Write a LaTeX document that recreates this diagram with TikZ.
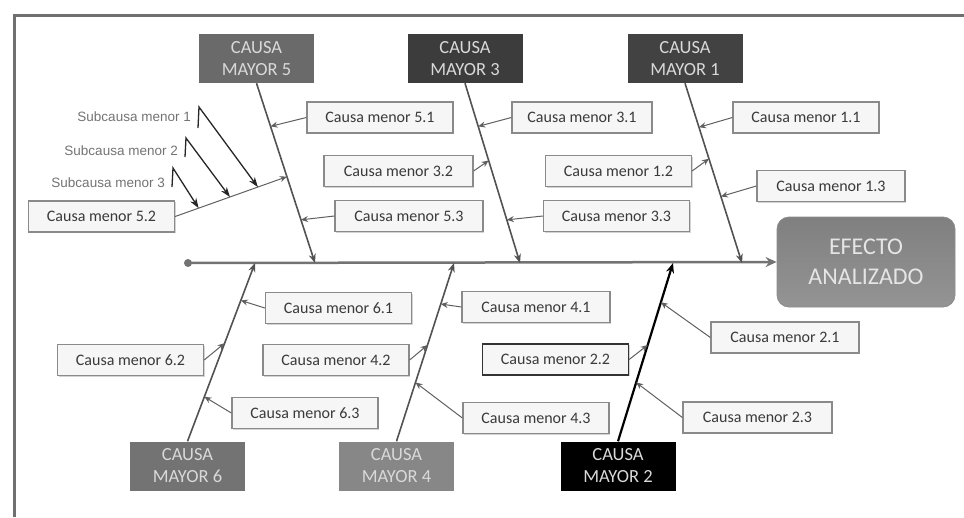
\documentclass[tikz,border=0pt]{standalone}
\usepackage{fontspec}
\setmainfont{Carlito}
\newfontfamily\subfont{Liberation Sans}
\usetikzlibrary{arrows.meta,calc,shadows}
\definecolor{frameC}{HTML}{707070}
\definecolor{mFive}{HTML}{6A6A6A}
\definecolor{mThree}{HTML}{3C3C3C}
\definecolor{mOne}{HTML}{424242}
\definecolor{mSix}{HTML}{737373}
\definecolor{mFour}{HTML}{878787}
\definecolor{minFill}{HTML}{F6F6F6}
\definecolor{minDraw}{HTML}{8A8A8A}
\definecolor{minText}{HTML}{3A3A3A}
\definecolor{arrC}{HTML}{606060}
\tikzset{
  major/.style={rectangle, minimum width=115pt, minimum height=49pt, inner sep=1pt,
    text=white!85!black, align=center, font=\fontsize{18.5}{22}\selectfont},
  minor/.style={rectangle, draw=minDraw, line width=1.3pt, fill=minFill, minimum width=146pt,
    minimum height=31pt, inner sep=1pt, text=minText, font=\fontsize{16}{18}\selectfont,
    drop shadow={opacity=0.35, shadow xshift=1.2pt, shadow yshift=-1.2pt}},
  minarrow/.style={draw=arrC, line width=1pt, -{Stealth[length=7pt,width=6pt]}},
  diag/.style={draw=arrC!85!black, line width=1.6pt, -{Stealth[length=9pt,width=7pt]}},
  subarrow/.style={draw=black!85, line width=1.3pt, -{Stealth[length=10pt,width=7pt]}},
  subtext/.style={font=\subfont\fontsize{13.5}{15}\selectfont, text=black!55, inner sep=0pt, anchor=east},
}
\begin{document}
\begin{tikzpicture}[x=1pt,y=-1pt]
\useasboundingbox (0,0) rectangle (964,517);
% frame
\draw[frameC, line width=3pt] (14,517) -- (14,15) -- (964,15);
% effect
\node[rectangle, rounded corners=12pt, minimum width=178pt, minimum height=90pt,
  top color=black!50, bottom color=black!42, draw=black!45, line width=0.8pt,
  text=white!90!black, align=center, font=\fontsize{24}{30}\selectfont] (eff) at (866,262) {EFECTO\\ANALIZADO};
% spine
\node[circle, fill=black!55, inner sep=0pt, minimum size=8pt] (start) at (188,263) {};
\draw[draw=black!55, line width=2.5pt, -{Stealth[length=11pt,width=10pt]}] (start.center) -- (eff.west);
% spine points
\coordinate (e5) at (315,263);
\coordinate (e3) at (520,263);
\coordinate (e1) at (742,263);
\coordinate (e6) at (255,263);
\coordinate (e4) at (454,263);
\coordinate (e2) at (673,263);
% major causes
\node[major, fill=mFive] (m5) at (256.5,58.5) {CAUSA\\MAYOR 5};
\node[major, fill=mThree] (m3) at (465,58.5) {CAUSA\\MAYOR 3};
\node[major, fill=mOne] (m1) at (685,58.5) {CAUSA\\MAYOR 1};
\node[major, fill=mSix] (m6) at (187.5,466) {CAUSA\\MAYOR 6};
\node[major, fill=mFour] (m4) at (396.5,466) {CAUSA\\MAYOR 4};
\node[major, fill=black] (m2) at (618,466) {CAUSA\\MAYOR 2};
% diagonals
\draw[diag] (m5.south) -- (e5);
\draw[diag] (m3.south) -- (e3);
\draw[diag] (m1.south) -- (e1);
\draw[diag] (m6.north) -- (e6);
\draw[diag] (m4.north) -- (e4);
\draw[draw=black, line width=2.2pt, -{Stealth[length=10pt,width=8pt]}] (m2.north) -- (e2);
% minor causes top
\node[minor] (c51) at (380,117.5) {Causa menor 5.1};
\node[minor, minimum width=140pt] (c31) at (582,117.5) {Causa menor 3.1};
\node[minor] (c11) at (806,117.5) {Causa menor 1.1};
\node[minor, minimum width=149pt] (c32) at (398.5,171) {Causa menor 3.2};
\node[minor] (c12) at (618.5,171) {Causa menor 1.2};
\node[minor, minimum width=148pt] (c13) at (831,186) {Causa menor 1.3};
\node[minor, minimum width=148pt] (c53) at (409,216) {Causa menor 5.3};
\node[minor] (c33) at (616.5,216) {Causa menor 3.3};
\node[minor] (c52) at (101.5,216.5) {Causa menor 5.2};
% minor causes bottom
\node[minor] (c61) at (338.5,308) {Causa menor 6.1};
\node[minor, minimum width=148pt] (c41) at (536,307) {Causa menor 4.1};
\node[minor] (c62) at (130.5,360) {Causa menor 6.2};
\node[minor] (c42) at (336,360) {Causa menor 4.2};
\node[minor, draw=black!80] (c22) at (555.5,359.5) {Causa menor 2.2};
\node[minor, minimum width=148pt] (c21) at (785,337.5) {Causa menor 2.1};
\node[minor, minimum width=149pt] (c23) at (757.5,417.5) {Causa menor 2.3};
\node[minor] (c63) at (305,413) {Causa menor 6.3};
\node[minor] (c43) at (536,418) {Causa menor 4.3};
% minor arrows top
\draw[minarrow] (c51.west) -- ($(m5.south)!0.24!(e5)$);
\draw[minarrow] (c31.west) -- ($(m3.south)!0.24!(e3)$);
\draw[minarrow] (c11.west) -- ($(m1.south)!0.245!(e1)$);
\draw[minarrow] (c32.east) -- ($(m3.south)!0.43!(e3)$);
\draw[minarrow] (c12.east) -- ($(m1.south)!0.42!(e1)$);
\draw[minarrow] (c13.west) -- ($(m1.south)!0.63!(e1)$);
\draw[minarrow] (c53.west) -- ($(m5.south)!0.76!(e5)$);
\draw[minarrow] (c33.west) -- ($(m3.south)!0.76!(e3)$);
\coordinate (p52) at ($(m5.south)!0.52!(e5)$);
\draw[minarrow] (c52.east) -- (p52);
% minor arrows bottom
\draw[minarrow] (c61.west) -- ($(m6.north)!0.79!(e6)$);
\draw[minarrow] (c41.west) -- ($(m4.north)!0.77!(e4)$);
\draw[minarrow] (c62.east) -- ($(m6.north)!0.55!(e6)$);
\draw[minarrow] (c42.east) -- ($(m4.north)!0.54!(e4)$);
\draw[minarrow] (c22.east) -- ($(m2.north)!0.54!(e2)$);
\draw[minarrow] (c21.west) -- ($(m2.north)!0.78!(e2)$);
\draw[minarrow] (c23.west) -- ($(m2.north)!0.33!(e2)$);
\draw[minarrow] (c63.west) -- ($(m6.north)!0.25!(e6)$);
\draw[minarrow] (c43.west) -- ($(m4.north)!0.33!(e4)$);
% subcauses
\node[subtext] (s1) at (191,117) {Subcausa menor 1};
\node[subtext] (s2) at (178,151) {Subcausa menor 2};
\node[subtext] (s3) at (165,183) {Subcausa menor 3};
\coordinate (b1) at (198,128);
\coordinate (b2) at (185,157);
\coordinate (b3) at (172,187);
\draw[subarrow] (b1) -- ++(1,-21) -- ($(c52.east)!0.74!(p52)$);
\draw[subarrow] (b2) -- ++(1,-19) -- ($(c52.east)!0.49!(p52)$);
\draw[subarrow] (b3) -- ++(1,-19) -- ($(c52.east)!0.21!(p52)$);
\end{tikzpicture}
\end{document}
